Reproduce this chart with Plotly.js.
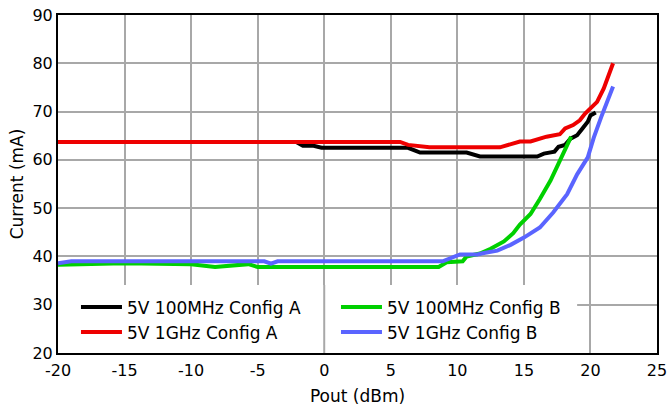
<!DOCTYPE html>
<html>
<head>
<meta charset="utf-8">
<script src="https://cdn.plot.ly/plotly-3.0.1.min.js"></script>
<style>html,body{margin:0;padding:0;background:#fff;}#chart{width:672px;height:410px;}</style>
</head>
<body>
<div id="chart"></div>
<script>
// Series: 5V 100MHz Config A
const blackX = [-20, -2.1, -1.6, -0.8, -0.2, 6.3, 7.2, 10.7, 11.7, 16.0, 16.5, 17.3, 17.6, 18.1, 18.5, 19.0, 19.4, 19.8, 20.0, 20.4];
const blackY = [63.7, 63.7, 62.9, 62.9, 62.5, 62.5, 61.5, 61.5, 60.7, 60.7, 61.3, 61.7, 62.7, 63.1, 64.4, 65.1, 66.5, 67.9, 69.2, 69.8];
// Series: 5V 1GHz Config A
const redX = [-20, 5.7, 6.3, 7.9, 13.2, 13.9, 14.7, 15.5, 16.2, 16.7, 17.7, 18.1, 18.7, 19.2, 19.6, 20.0, 20.5, 21.0, 21.4, 21.7];
const redY = [63.7, 63.7, 63.1, 62.6, 62.6, 63.2, 63.8, 63.8, 64.4, 64.8, 65.3, 66.5, 67.2, 68.2, 69.6, 70.6, 72.0, 74.8, 77.5, 80.0];
// Series: 5V 100MHz Config B
const greenX = [-20, -15, -10, -8.2, -5.7, -5.0, 8.6, 9.2, 10.4, 10.7, 11.7, 12.5, 13.5, 14.2, 14.7, 15.5, 16.2, 17.0, 17.6, 18.1, 18.55];
const greenY = [38.3, 38.6, 38.4, 37.8, 38.4, 37.8, 37.8, 38.8, 39.0, 40.0, 40.6, 41.6, 43.1, 44.8, 46.6, 48.8, 51.9, 55.7, 59.2, 62.3, 64.8];
// Series: 5V 1GHz Config B
const blueX = [-20, -19, -4.5, -4.0, -3.5, 8.9, 10.2, 11.5, 12.0, 13.0, 14.0, 15.0, 16.2, 17.2, 18.25, 19.0, 19.8, 20.25, 20.8, 21.3, 21.7];
const blueY = [38.6, 39.0, 39.0, 38.5, 39.0, 39.0, 40.4, 40.4, 40.7, 41.2, 42.4, 43.9, 46.0, 49.1, 52.9, 57.0, 60.5, 64.6, 68.8, 72.3, 75.2];

const seriesNames = ["5V 100MHz Config A", "5V 1GHz Config A", "5V 100MHz Config B", "5V 1GHz Config B"];
const xTicks = [-20, -15, -10, -5, 0, 5, 10, 15, 20, 25];
const yTicks = [20, 30, 40, 50, 60, 70, 80, 90];

const FONT = "DejaVu Sans, Verdana, sans-serif";

function tr(x, y, name, color, rank) {
  return {x: x, y: y, name: name, type: 'scatter', mode: 'lines',
          line: {color: color, width: 4}, legendrank: rank};
}
const data = [
  tr(blackX, blackY, seriesNames[0], '#000000', 1),
  tr(redX, redY, seriesNames[1], '#ee0000', 3),
  tr(greenX, greenY, seriesNames[2], '#00d000', 2),
  tr(blueX, blueY, seriesNames[3], '#5a64ff', 4)
];

const layout = {
  width: 672, height: 410,
  margin: {l: 58, r: 15, t: 15, b: 57},
  paper_bgcolor: '#ffffff', plot_bgcolor: '#ffffff',
  font: {family: FONT, size: 16, color: '#000'},
  showlegend: true,
  legend: {
    orientation: 'h', x: 0.03, y: 0.188, xanchor: 'left', yanchor: 'top',
    xref: 'paper', yref: 'paper',
    entrywidth: 204, entrywidthmode: 'pixels', itemwidth: 41,
    bgcolor: 'rgba(0,0,0,0)', borderwidth: 0,
    font: {family: FONT, size: 17, color: '#000'},
    traceorder: 'normal'
  },
  xaxis: {
    range: [-20, 25], tickvals: xTicks, ticktext: xTicks.map(String),
    showgrid: true, gridcolor: '#a8a8a8', gridwidth: 2,
    showline: true, linecolor: '#000', linewidth: 2, mirror: true,
    zeroline: false, ticks: '', ticklabelstandoff: 2,
    title: {text: 'Pout (dBm)', font: {family: FONT, size: 17}, standoff: 11},
    tickfont: {family: FONT, size: 16}
  },
  yaxis: {
    range: [20, 90], tickvals: yTicks, ticktext: yTicks.map(String),
    showgrid: true, gridcolor: '#a8a8a8', gridwidth: 2,
    showline: true, linecolor: '#000', linewidth: 2, mirror: true,
    zeroline: false, ticks: '',
    title: {text: 'Current (mA)', font: {family: FONT, size: 17}, standoff: 4},
    tickfont: {family: FONT, size: 16}
  },
  shapes: [
    {type: 'rect', xref: 'x', yref: 'y', x0: -20, x1: 19.0, y0: 20, y1: 34.1,
     fillcolor: '#ffffff', line: {width: 0}, layer: 'between'},
    {type: 'line', xref: 'x', yref: 'y', x0: 0, x1: 0, y0: 20, y1: 34.1,
     line: {color: '#a8a8a8', width: 2}, layer: 'between'}
  ]
};

Plotly.newPlot('chart', data, layout, {displayModeBar: false, staticPlot: true});
</script>
</body>
</html>
